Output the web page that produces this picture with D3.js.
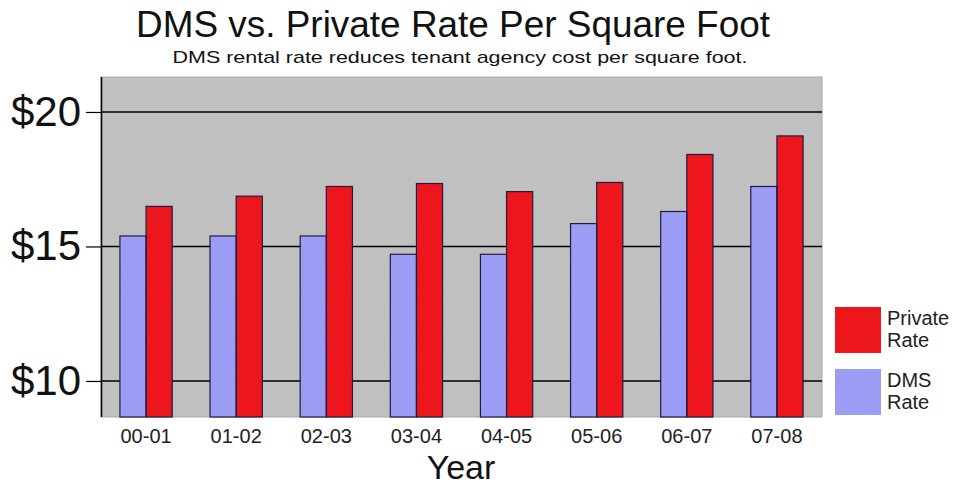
<!DOCTYPE html>
<html><head><meta charset="utf-8">
<script src="https://cdn.jsdelivr.net/npm/d3@7"></script>
<style>body{margin:0;background:#fff}svg{display:block;font-family:"Liberation Sans",Arial,sans-serif}</style>
</head><body><svg id="c" width="956" height="486"></svg>
<script>
const categories = ["00-01","01-02","02-03","03-04","04-05","05-06","06-07","07-08"];
const dmsRate = [15.39, 15.39, 15.39, 14.71, 14.71, 15.85, 16.30, 17.23];
const privateRate = [16.49, 16.87, 17.23, 17.34, 17.04, 17.38, 18.42, 19.11];
const yTicks = [10, 15, 20];
const seriesNames = ["DMS Rate", "Private Rate"];

const svg = d3.select("#c");
const L = 101, R = 822, T = 77, B = 417;

const defs = svg.append("defs");
const f = defs.append("filter").attr("id","noise").attr("x",0).attr("y",0).attr("width","100%").attr("height","100%");
f.append("feTurbulence").attr("type","fractalNoise").attr("baseFrequency",0.9).attr("numOctaves",2).attr("seed",3).attr("result","n");
f.append("feColorMatrix").attr("in","n").attr("type","matrix")
  .attr("values","0 0 0 0 0  0 0 0 0 0  0 0 0 0 0  0 0 0 0.1 0").attr("result","a");
f.append("feComposite").attr("in","a").attr("in2","SourceGraphic").attr("operator","atop");

const x0 = d3.scaleBand().domain(categories).range([L, R]).paddingInner(0.42).paddingOuter(0.21);
const x1 = d3.scaleBand().domain(seriesNames).range([0, x0.bandwidth()]);
const y = d3.scaleLinear().domain([8.66, 21.3]).range([B, T]);
const colors = {"DMS Rate":"#a0a0fa","Private Rate":"#f2141c"};

// plot background
svg.append("rect").attr("x",L).attr("y",T).attr("width",R-L).attr("height",B-T)
  .attr("fill","#c0c0c0").attr("stroke","#a8a8a8").attr("stroke-width",1);

// gridlines
svg.append("g").selectAll("line").data(yTicks).join("line")
  .attr("x1",L).attr("x2",R).attr("y1",d=>y(d)).attr("y2",d=>y(d))
  .attr("stroke","#000").attr("stroke-width",1.5);

// bars
const rows = categories.map((c,i)=>({cat:c, vals:[{k:"DMS Rate",v:dmsRate[i]},{k:"Private Rate",v:privateRate[i]}]}));
const g = svg.append("g").selectAll("g").data(rows).join("g")
  .attr("transform",d=>`translate(${x0(d.cat)},0)`);
g.selectAll("rect").data(d=>d.vals).join("rect")
  .attr("x",d=>x1(d.k)).attr("width",x1.bandwidth())
  .attr("y",d=>y(d.v)).attr("height",d=>B-y(d.v))
  .attr("fill",d=>colors[d.k]).attr("filter","url(#noise)");
g.selectAll("rect.o").data(d=>d.vals).join("rect").attr("class","o")
  .attr("x",d=>x1(d.k)).attr("width",x1.bandwidth())
  .attr("y",d=>y(d.v)).attr("height",d=>B-y(d.v))
  .attr("fill","none").attr("stroke","#1c1c44").attr("stroke-width",1.2);

// y axis
const ya = svg.append("g").attr("transform",`translate(${L},0)`)
  .call(d3.axisLeft(y).tickValues(yTicks).tickSize(15).tickPadding(5).tickFormat(d=>"$"+d));
ya.select(".domain").attr("d",`M0.5,${T}V${B}`).attr("stroke","#000").attr("stroke-width",1.5);
ya.selectAll(".tick line").attr("stroke","#000").attr("stroke-width",1.2);
ya.selectAll("text").attr("font-size",42).attr("fill","#111").attr("font-family","Liberation Sans, Arial, sans-serif");

// x axis
const xa = svg.append("g").attr("transform",`translate(0,${B})`)
  .call(d3.axisBottom(x0).tickSize(0).tickPadding(12));
xa.select(".domain").remove();
xa.selectAll("text").attr("font-size",20).attr("fill","#222").attr("font-family","Liberation Sans, Arial, sans-serif");

// titles
svg.append("text").attr("x",453).attr("y",37).attr("text-anchor","middle")
  .attr("font-size",36).attr("fill","#111").attr("textLength",634).attr("lengthAdjust","spacingAndGlyphs")
  .text("DMS vs. Private Rate Per Square Foot");
svg.append("text").attr("x",460).attr("y",63).attr("text-anchor","middle")
  .attr("font-size",17).attr("fill","#111").attr("textLength",575).attr("lengthAdjust","spacingAndGlyphs")
  .text("DMS rental rate reduces tenant agency cost per square foot.");
svg.append("text").attr("x",461).attr("y",479).attr("text-anchor","middle")
  .attr("font-size",34).attr("fill","#111").text("Year");

// legend
const legendItems = [{k:"Private Rate", lines:["Private","Rate"]},{k:"DMS Rate", lines:["DMS","Rate"]}];
const lg = svg.append("g").selectAll("g").data(legendItems).join("g")
  .attr("transform",(d,i)=>`translate(835,${307+i*62})`);
lg.append("rect").attr("width",46).attr("height",46).attr("fill",d=>colors[d.k]).attr("filter","url(#noise)");
lg.append("text").attr("x",52).attr("font-size",20).attr("fill","#222")
  .selectAll("tspan").data(d=>d.lines).join("tspan")
  .attr("x",52).attr("y",(d,i)=>18+i*22).text(d=>d);
</script></body></html>
